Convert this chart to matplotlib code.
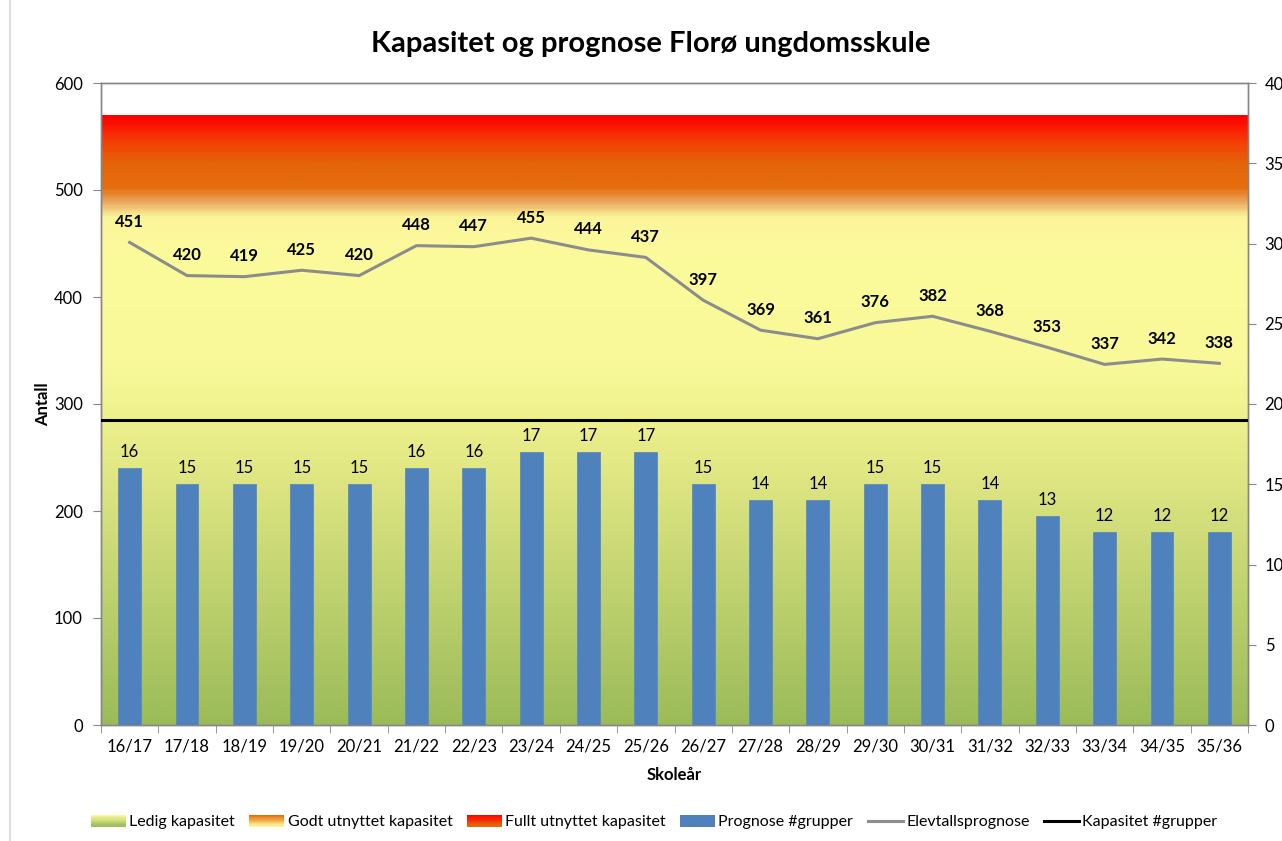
import numpy as np
import matplotlib
matplotlib.use("Agg")
import matplotlib.pyplot as plt
from matplotlib.colors import LinearSegmentedColormap
from matplotlib.patches import Patch, Rectangle
from matplotlib.lines import Line2D
from matplotlib.legend_handler import HandlerBase

plt.rcParams["font.family"] = ["Lato", "DejaVu Sans"]

# data
skoleaar = ["16/17", "17/18", "18/19", "19/20", "20/21", "21/22", "22/23", "23/24",
            "24/25", "25/26", "26/27", "27/28", "28/29", "29/30", "30/31", "31/32",
            "32/33", "33/34", "34/35", "35/36"]
elevtall = [451, 420, 419, 425, 420, 448, 447, 455, 444, 437,
            397, 369, 361, 376, 382, 368, 353, 337, 342, 338]
grupper = [16, 15, 15, 15, 15, 16, 16, 17, 17, 17,
           15, 14, 14, 15, 15, 14, 13, 12, 12, 12]
kapasitet_grupper = 19
kapasitet_toppen = 570  # top of the "Fullt utnyttet" band

# background gradient: value -> colour
grad_stops = [(0, "#9BBB59"), (285, "#EEF08C"), (340, "#F9F99A"), (440, "#FCFB9C"),
              (476, "#FBF59A"), (490, "#EBA65E"), (503, "#E46E0E"), (525, "#E4650A"),
              (545, "#F34206"), (570, "#FF0000")]

ledig_cols = ["#9BBB59", "#FAFA9A"]
godt_cols = ["#FCFA9C", "#E46C0A"]
fullt_cols = ["#E46C0A", "#FF0000"]

blue = "#4F81BD"
grey_line = "#8C8C8C"
axis_col = "#868686"


class GradHandler(HandlerBase):
    def __init__(self, cols):
        super().__init__()
        self.cols = cols

    def create_artists(self, legend, orig_handle, xdescent, ydescent, width, height, fontsize, trans):
        cm = LinearSegmentedColormap.from_list("g", self.cols)
        n = 10
        arts = []
        for i in range(n):
            r = Rectangle((-xdescent, -ydescent + height * i / n), width, height / n + 0.05,
                          facecolor=cm(i / (n - 1)), edgecolor="none", transform=trans)
            arts.append(r)
        return arts


fig = plt.figure(figsize=(12.82, 8.41), dpi=100)
ax = fig.add_axes([101 / 1282, 1 - 725 / 841, (1248 - 101) / 1282, (725 - 83) / 841])
ax2 = ax.twinx()

x = np.arange(len(skoleaar))

# gradient background
vmax = grad_stops[-1][0]
cmap = LinearSegmentedColormap.from_list(
    "bg", [(v / vmax, c) for v, c in grad_stops])
grad = np.linspace(0, 1, 600).reshape(-1, 1)
ax.imshow(grad, cmap=cmap, origin="lower", aspect="auto",
          extent=(-0.5, len(skoleaar) - 0.5, 0, kapasitet_toppen), zorder=0)

# elevtall line
ax.plot(x, elevtall, color=grey_line, lw=2.2, zorder=3)
for xi, v in zip(x, elevtall):
    ax.annotate(str(v), (xi, v), xytext=(0, 9), textcoords="offset points",
                ha="center", va="bottom", fontsize=12, fontweight="bold", color="black")

ax.set_xlim(-0.5, len(skoleaar) - 0.5)
ax.set_ylim(0, 600)
ax.set_yticks(range(0, 601, 100))

# bars and capacity line on secondary axis
ax2.bar(x, grupper, width=0.4, color=blue, edgecolor="#5A8AC6", lw=0.6, zorder=3)
for xi, v in zip(x, grupper):
    ax2.annotate(str(v), (xi, v), xytext=(0, 6), textcoords="offset points",
                 ha="center", va="bottom", fontsize=12, color="black")
ax2.axhline(kapasitet_grupper, color="black", lw=2.2, zorder=4)
ax2.set_ylim(0, 40)
ax2.set_yticks(range(0, 41, 5))

# axes styling
for a in (ax, ax2):
    for s in a.spines.values():
        s.set_color(axis_col)
        s.set_linewidth(1)
ax.set_xticks(x)
ax.set_xticklabels(skoleaar, fontsize=12)
ax.set_xticks(np.arange(-0.5, len(skoleaar), 1), minor=True)
ax.tick_params(axis="x", which="major", length=0, pad=10)
ax.tick_params(axis="x", which="minor", length=6, color=axis_col)
ax.tick_params(axis="y", length=6, color=axis_col, labelsize=12, pad=7)
ax2.tick_params(axis="y", length=6, color=axis_col, labelsize=12, pad=6)

ax.set_ylabel("Antall", fontsize=12, fontweight="bold", labelpad=2)
ax.set_xlabel("Skoleår", fontsize=12, fontweight="bold", labelpad=9)

fig.text(651 / 1282, 1 - 44 / 841, "Kapasitet og prognose Florø ungdomsskule",
         fontsize=21, fontweight="bold", ha="center", va="center")

# legend
h_ledig = Patch(label="Ledig kapasitet")
h_godt = Patch(label="Godt utnyttet kapasitet")
h_fullt = Patch(label="Fullt utnyttet kapasitet")
h_bar = Patch(facecolor=blue, label="Prognose #grupper")
h_grey = Line2D([], [], color=grey_line, lw=2.2, label="Elevtallsprognose")
h_black = Line2D([], [], color="black", lw=2.2, label="Kapasitet #grupper")
fig.legend(handles=[h_ledig, h_godt, h_fullt, h_bar, h_grey, h_black],
           handler_map={h_ledig: GradHandler(ledig_cols),
                        h_godt: GradHandler(godt_cols),
                        h_fullt: GradHandler(fullt_cols)},
           loc="center", bbox_to_anchor=(654 / 1282, 1 - 822 / 841), ncol=6, frameon=False,
           fontsize=11.5, handlelength=2.2, handleheight=0.8, handletextpad=0.2,
           columnspacing=0.9)

fig.add_artist(Line2D([10 / 1282, 10 / 1282], [0, 1], color="#D9D9D9", lw=1.2))

fig.savefig("out.png", dpi=100)
